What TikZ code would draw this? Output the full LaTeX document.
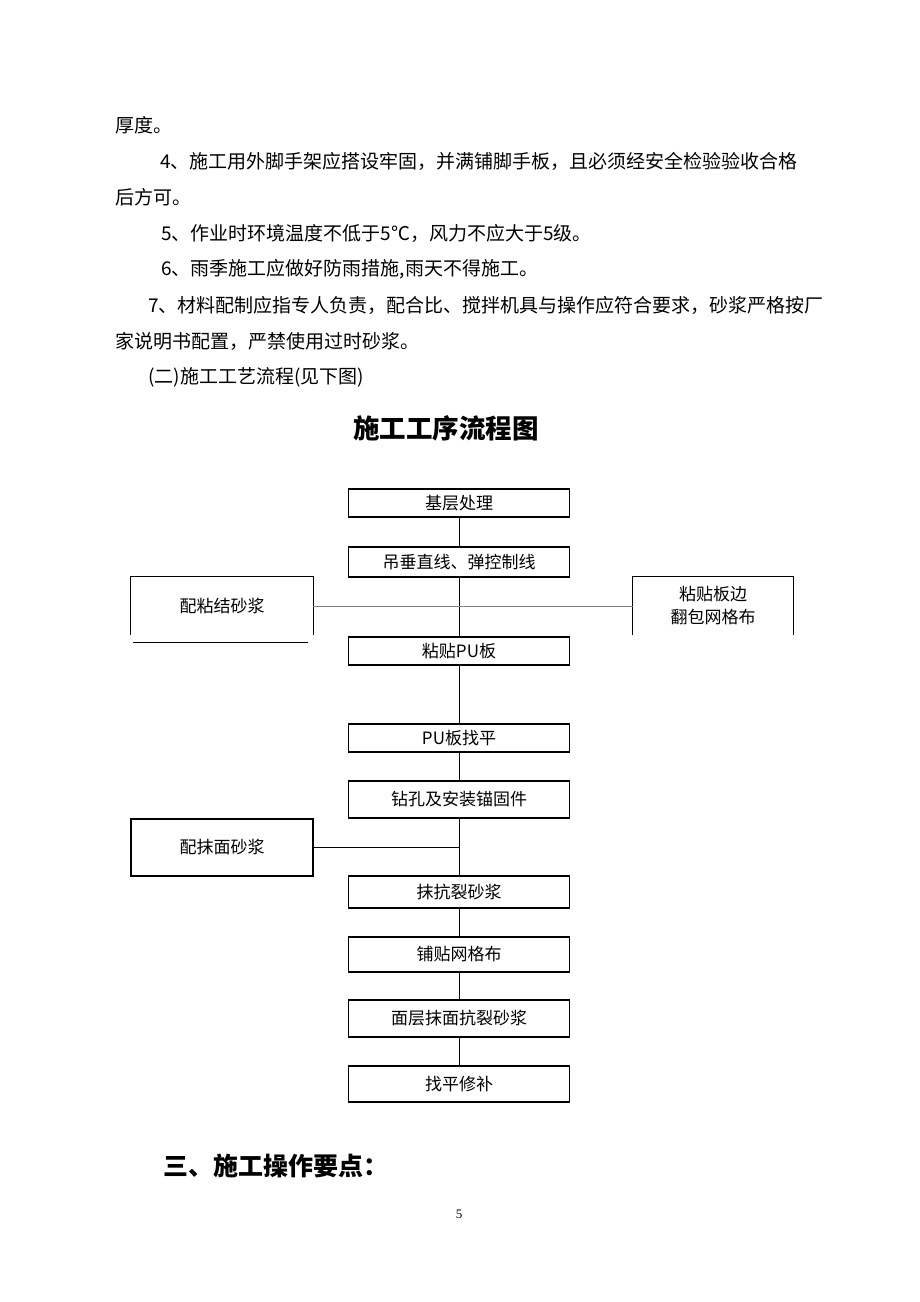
\documentclass[tikz,border=0pt]{standalone}
\usepackage{fontspec}
\usepackage{tikz}
\usetikzlibrary{positioning}
\newfontfamily\cjk{Noto Sans CJK SC}
\newfontfamily\tnr{Liberation Serif}

\tikzset{
  para/.style={anchor=west, inner sep=0pt, font=\cjk\fontsize{19}{19}\selectfont},
  stepbox/.style={draw, line width=1.1pt, minimum width=221pt, inner sep=0pt,
    font=\cjk\fontsize{17}{17}\selectfont},
  sidebox/.style={minimum width=#1, minimum height=58pt, inner sep=0pt, align=center,
    font=\cjk\fontsize{17}{23}\selectfont},
  link/.style={line width=0.9pt}
}

\begin{document}
\begin{tikzpicture}[x=1pt,y=-1pt,node distance=59pt,on grid]
	\path[use as bounding box, fill=white] (0,0) rectangle (920,1302);

	% text above the chart
	\node[para] (p0) at (115,125) {厚度。};
	\node[para] (p1) at (160,161) {4、施工用外脚手架应搭设牢固，并满铺脚手板，且必须经安全检验验收合格};
	\node[para] (p2) at (115,197) {后方可。};
	\node[para] (p3) at (161,233) {5、作业时环境温度不低于5℃，风力不应大于5级。};
	\node[para] (p4) at (161,269) {6、雨季施工应做好防雨措施,雨天不得施工。};
	\node[para] (p5) at (148,305) {7、材料配制应指专人负责，配合比、搅拌机具与操作应符合要求，砂浆严格按厂};
	\node[para] (p6) at (115,341) {家说明书配置，严禁使用过时砂浆。};
	\node[para] (p7) at (148,377) {(二)施工工艺流程(见下图)};
	\node[font=\cjk\bfseries\fontsize{26.5}{26.5}\selectfont] (title) at (446,428) {施工工序流程图};

	% main steps
	\node[stepbox, minimum height=28pt] (b1) at (459,503) {基层处理};
	\node[stepbox, minimum height=30pt] (b2) [below=59pt of b1] {吊垂直线、弹控制线};
	\node[stepbox, minimum height=28pt] (b3) [below=89pt of b2] {粘贴PU板};
	\node[stepbox, minimum height=28pt] (b4) [below=87pt of b3] {PU板找平};
	\node[stepbox, minimum height=37pt] (b5) [below=61.5pt of b4] {钻孔及安装锚固件};
	\node[stepbox, minimum height=32pt] (b6) [below=92.5pt of b5] {抹抗裂砂浆};
	\node[stepbox, minimum height=35pt] (b7) [below=62.5pt of b6] {铺贴网格布};
	\node[stepbox, minimum height=37pt] (b8) [below=64pt of b7] {面层抹面抗裂砂浆};
	\node[stepbox, minimum height=36pt] (b9) [below=65.5pt of b8] {找平修补};

	% side steps
	\node[sidebox=182pt] (pzj) at (222,606) {配粘结砂浆};
	\node[sidebox=160pt] (fbw) at (713,606) {粘贴板边\\翻包网格布};
	\node[sidebox=182pt, draw, line width=1.1pt, minimum height=57pt] (pmz) at (222,847.5) {配抹面砂浆};

	\draw[line width=1.1pt] (pzj.south west) |- (pzj.north east) -- (pzj.south east);
	\draw[line width=1.1pt] ([xshift=2pt,yshift=-7pt]pzj.south west) -- ([xshift=-5pt,yshift=-7pt]pzj.south east);
	\draw[line width=1.1pt] (fbw.south west) |- (fbw.north east) -- (fbw.south east);

	% connectors
	\draw[link] (b1) -- (b2);
	\draw[link] (b2) -- (b3);
	\draw[link] (b3) -- (b4);
	\draw[link] (b4) -- (b5);
	\draw[link] (b5) -- (b6);
	\draw[link] (b6) -- (b7);
	\draw[link] (b7) -- (b8);
	\draw[link] (b8) -- (b9);
	\draw[line width=0.7pt, gray] (pzj.east) -- (fbw.west);
	\draw[link] (pmz.east) -- (pmz.east -| b5.south);

	% text below the chart
	\node[anchor=west, inner sep=0pt, font=\cjk\bfseries\fontsize{25}{25}\selectfont] (h3) at (163,1166) {三、施工操作要点：};
	\node[font=\tnr\fontsize{13}{13}\selectfont] (pg) at (459,1214) {5};
\end{tikzpicture}
\end{document}
